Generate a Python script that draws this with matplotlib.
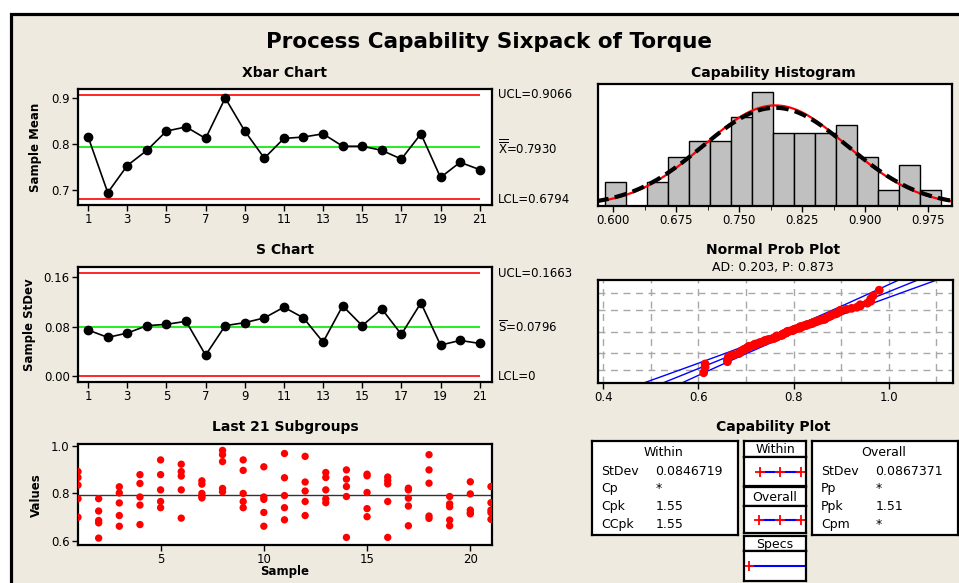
import numpy as np
import matplotlib
matplotlib.use("Agg")
import matplotlib.pyplot as plt
import matplotlib.patches as patches
from matplotlib.ticker import FixedLocator
from statistics import NormalDist

# --- данные ---
samples = list(range(1, 22))

xbar_means = [0.815, 0.694, 0.753, 0.786, 0.828, 0.837, 0.812, 0.900, 0.828, 0.769, 0.812,
			  0.815, 0.822, 0.795, 0.795, 0.786, 0.767, 0.822, 0.727, 0.760, 0.744]
xbar_ucl, xbar_center, xbar_lcl = 0.9066, 0.7930, 0.6794

s_devs = [0.0746, 0.0627, 0.0697, 0.0816, 0.0838, 0.0886, 0.0341, 0.0816, 0.0865, 0.0941, 0.1114,
		  0.0941, 0.0551, 0.1135, 0.0816, 0.1086, 0.0676, 0.1184, 0.0503, 0.0578, 0.0530]
s_ucl, s_center, s_lcl = 0.1663, 0.0796, 0.0

subgroups = [
	[0.891, 0.866, 0.834, 0.777, 0.699],
	[0.777, 0.725, 0.685, 0.675, 0.611],
	[0.827, 0.801, 0.759, 0.706, 0.661],
	[0.878, 0.841, 0.784, 0.750, 0.668],
	[0.940, 0.878, 0.814, 0.765, 0.739],
	[0.922, 0.891, 0.872, 0.814, 0.695],
	[0.852, 0.838, 0.799, 0.787, 0.780],
	[0.980, 0.962, 0.933, 0.820, 0.806],
	[0.940, 0.896, 0.799, 0.765, 0.739],
	[0.911, 0.784, 0.774, 0.719, 0.661],
	[0.967, 0.865, 0.790, 0.739, 0.688],
	[0.955, 0.847, 0.809, 0.765, 0.706],
	[0.887, 0.866, 0.814, 0.776, 0.760],
	[0.898, 0.859, 0.828, 0.786, 0.614],
	[0.880, 0.873, 0.803, 0.735, 0.701],
	[0.868, 0.853, 0.839, 0.765, 0.614],
	[0.821, 0.814, 0.779, 0.746, 0.663],
	[0.962, 0.898, 0.842, 0.704, 0.694],
	[0.786, 0.755, 0.743, 0.687, 0.663],
	[0.848, 0.797, 0.729, 0.718, 0.713],
	[0.828, 0.760, 0.729, 0.718, 0.690],
]

hist_edges = [0.59, 0.615, 0.64, 0.665, 0.69, 0.715, 0.74, 0.765, 0.79,
			  0.815, 0.84, 0.865, 0.89, 0.915, 0.94, 0.965, 0.99]
hist_counts = [3, 0, 3, 6, 8, 8, 11, 14, 9, 9, 9, 10, 6, 2, 5, 2]

sd_within = 0.0846719
sd_overall = 0.0867371
lsl = 0.4

within_rows = [("StDev", "0.0846719"), ("Cp", "*"), ("Cpk", "1.55"), ("CCpk", "1.55")]
overall_rows = [("StDev", "0.0867371"), ("Pp", "*"), ("Ppk", "1.51"), ("Cpm", "*")]

BG = "#EEEAE0"
W, H = 959.0, 583.0


def px_axes(fig, x0, y0, x1, y1):
	# координаты в пикселях картинки -> доли фигуры
	return fig.add_axes([x0 / W, 1 - y1 / H, (x1 - x0) / W, (y1 - y0) / H])


def style_axes(ax):
	ax.set_facecolor("white")
	for sp in ax.spines.values():
		sp.set_linewidth(1.6)
		sp.set_color("black")
	ax.tick_params(labelsize=8.5, length=4, width=1, direction="out", pad=2)


def fig_title(fig, x, y, text, size=10, weight="bold"):
	fig.text(x / W, 1 - y / H, text, ha="center", va="center", fontsize=size, fontweight=weight)


def plot_xbar(fig):
	ax = px_axes(fig, 78, 89, 492, 205)
	style_axes(ax)
	ax.hlines([xbar_ucl, xbar_lcl], 0.5, 21, color="red", lw=1.2)
	ax.hlines(xbar_center, 0.5, 21, color="#22EE22", lw=1.4)
	ax.plot(samples, xbar_means, color="black", lw=1.2, marker="o", ms=6)
	ax.set_xlim(0.48, 21.63)
	ax.set_ylim(0.667, 0.9196)
	ax.set_xticks(range(1, 22, 2))
	ax.set_yticks([0.7, 0.8, 0.9])
	ax.set_yticklabels(["0.7", "0.8", "0.9"])
	tr = ax.get_yaxis_transform()
	ax.text(1.015, xbar_ucl, f"UCL={xbar_ucl:.4f}", transform=tr, va="center", fontsize=8.5)
	ax.text(1.015, xbar_center, r"$\overline{\overline{\mathrm{X}}}$" + f"={xbar_center:.4f}",
			transform=tr, va="center", fontsize=8.5)
	ax.text(1.015, xbar_lcl, f"LCL={xbar_lcl:.4f}", transform=tr, va="center", fontsize=8.5)
	fig_title(fig, 285, 73, "Xbar Chart")
	fig.text(36 / W, 1 - 147 / H, "Sample Mean", rotation=90, ha="center", va="center",
			 fontsize=8.5, fontweight="bold")


def plot_s(fig):
	ax = px_axes(fig, 78, 267, 492, 382)
	style_axes(ax)
	ax.hlines([s_ucl, s_lcl], 0.5, 21, color="red", lw=1.2)
	ax.hlines(s_center, 0.5, 21, color="#22EE22", lw=1.4)
	ax.plot(samples, s_devs, color="black", lw=1.2, marker="o", ms=6)
	ax.set_xlim(0.48, 21.63)
	ax.set_ylim(-0.0092, 0.1762)
	ax.set_xticks(range(1, 22, 2))
	ax.set_yticks([0.0, 0.08, 0.16])
	ax.set_yticklabels(["0.00", "0.08", "0.16"])
	tr = ax.get_yaxis_transform()
	ax.text(1.015, s_ucl, f"UCL={s_ucl:.4f}", transform=tr, va="center", fontsize=8.5)
	ax.text(1.015, s_center, r"$\overline{\mathrm{S}}$" + f"={s_center:.4f}",
			transform=tr, va="center", fontsize=8.5)
	ax.text(1.015, s_lcl, "LCL=0", transform=tr, va="center", fontsize=8.5)
	fig_title(fig, 285, 250, "S Chart")
	fig.text(29 / W, 1 - 325 / H, "Sample StDev", rotation=90, ha="center", va="center",
			 fontsize=8.5, fontweight="bold")


def plot_subgroups(fig):
	ax = px_axes(fig, 78, 444, 492, 545)
	style_axes(ax)
	for i, vals in zip(samples, subgroups):
		ax.scatter([i] * len(vals), vals, s=28, color="red", edgecolors="none", zorder=3)
	ax.axhline(xbar_center, color="#333333", lw=1.0)
	ax.set_xlim(1, 21.05)
	ax.set_ylim(0.582, 1.007)
	ax.set_xticks([5, 10, 15, 20])
	ax.set_yticks([0.6, 0.8, 1.0])
	ax.set_yticklabels(["0.6", "0.8", "1.0"])
	fig_title(fig, 285, 427, "Last 21 Subgroups")
	fig_title(fig, 285, 572, "Sample", size=8.5)
	fig.text(36 / W, 1 - 495 / H, "Values", rotation=90, ha="center", va="center",
			 fontsize=8.5, fontweight="bold")


def plot_histogram(fig):
	ax = px_axes(fig, 598, 84, 952, 206)
	style_axes(ax)
	lefts = hist_edges[:-1]
	widths = np.diff(hist_edges)
	ax.bar(lefts, hist_counts, width=widths, align="edge", color="#C0C0C0",
		   edgecolor="black", linewidth=1.0)
	n = sum(hist_counts)
	bw = widths[0]
	xs = np.linspace(0.58, 1.01, 300)
	y_within = n * bw * np.array([NormalDist(xbar_center, sd_within).pdf(x) for x in xs])
	y_overall = n * bw * np.array([NormalDist(xbar_center, sd_overall).pdf(x) for x in xs])
	ax.plot(xs, y_within, color="red", lw=1.6)
	ax.plot(xs, y_overall, color="black", lw=3, linestyle=(0, (3, 1.5)))
	ax.set_xlim(0.582, 1.0035)
	ax.set_ylim(0, 15)
	ax.set_xticks([0.600, 0.675, 0.750, 0.825, 0.900, 0.975])
	ax.set_xticklabels(["0.600", "0.675", "0.750", "0.825", "0.900", "0.975"])
	ax.xaxis.set_minor_locator(FixedLocator([0.6375, 0.7125, 0.7875, 0.8625, 0.9375]))
	ax.tick_params(axis="x", which="minor", length=3)
	ax.set_yticks([])
	fig_title(fig, 773, 73, "Capability Histogram")


def plot_normal_prob(fig):
	ax = px_axes(fig, 598, 280, 953, 383)
	style_axes(ax)
	data = np.sort(np.concatenate([np.array(g) for g in subgroups]))
	n = len(data)
	nd = NormalDist()
	z = np.array([nd.inv_cdf((i - 0.3) / (n + 0.4)) for i in range(1, n + 1)])
	zz = np.linspace(-3.6, 3.6, 200)
	fit = xbar_center + sd_overall * zz
	half = 1.96 * sd_overall * np.sqrt(1.0 / n + zz ** 2 / (2.0 * n))
	for line in (fit, fit - half, fit + half):
		ax.plot(line, zz, color="blue", lw=1.0, zorder=2)
	ax.scatter(data, z, s=40, color="red", edgecolors="none", zorder=3)
	zmax = nd.inv_cdf(0.999)
	ax.set_ylim(-zmax, zmax)
	ax.set_xlim(0.389, 1.135)
	ax.set_xticks([0.4, 0.6, 0.8, 1.0])
	ax.set_xticklabels(["0.4", "0.6", "0.8", "1.0"])
	for gx in np.arange(0.4, 1.15, 0.1):
		ax.axvline(gx, color="#A8A8A8", lw=1.0, linestyle=(0, (5, 4)), zorder=1)
	for p in (0.01, 0.10, 0.50, 0.90, 0.99):
		ax.axhline(nd.inv_cdf(p), color="#A8A8A8", lw=1.0, linestyle=(0, (5, 4)), zorder=1)
	ax.set_yticks([])
	fig_title(fig, 773, 250, "Normal Prob Plot")
	fig_title(fig, 773, 267, "AD: 0.203, P: 0.873", size=9, weight="normal")


def info_box(fig, x0, y0, x1, y1, header, rows):
	ax = px_axes(fig, x0, y0, x1, y1)
	ax.set_xticks([])
	ax.set_yticks([])
	ax.set_facecolor("white")
	for sp in ax.spines.values():
		sp.set_linewidth(1.6)
	ax.text(0.49, 0.875, header, ha="center", va="center", fontsize=9, transform=ax.transAxes)
	ys = [0.68, 0.495, 0.30, 0.115]
	for (label, value), yy in zip(rows, ys):
		ax.text(0.06, yy, label, ha="left", va="center", fontsize=9, transform=ax.transAxes)
		ax.text(0.435, yy, value, ha="left", va="center", fontsize=9, transform=ax.transAxes)


def small_box(fig, y0, y1):
	ax = px_axes(fig, 744, y0, 806, y1)
	ax.set_xticks([])
	ax.set_yticks([])
	ax.set_facecolor("white")
	for sp in ax.spines.values():
		sp.set_linewidth(1.6)
	return ax


def plot_capability(fig):
	fig_title(fig, 773, 427, "Capability Plot")
	info_box(fig, 592, 441, 738, 535, "Within", within_rows)
	info_box(fig, 812, 441, 958, 535, "Overall", overall_rows)

	headers = [("Within", 441, 457), ("Overall", 487, 506), ("Specs", 536, 551)]
	for text, a, b in headers:
		hx = small_box(fig, a, b)
		hx.text(0.5, 0.45, text, ha="center", va="center", fontsize=9, transform=hx.transAxes)

	bodies = [(457, 486, sd_within), (506, 533, sd_overall)]
	for a, b, sd in bodies:
		bx = small_box(fig, a, b)
		pts = [xbar_center - 3 * sd, xbar_center, xbar_center + 3 * sd]
		bx.plot([pts[0], pts[-1]], [0.5, 0.5], color="blue", lw=1.5)
		bx.plot(pts, [0.5] * 3, linestyle="none", marker="+", color="red", ms=7, mew=1.3)
		bx.set_xlim(0.343, 1.114)
		bx.set_ylim(0, 1)

	sx = small_box(fig, 551, 581)
	sx.plot([lsl, 1.2], [0.5, 0.5], color="blue", lw=1.5)
	sx.plot([lsl], [0.5], linestyle="none", marker="+", color="red", ms=7, mew=1.3)
	sx.set_xlim(0.343, 1.114)
	sx.set_ylim(0, 1)


def main():
	fig = plt.figure(figsize=(9.59, 5.83), dpi=100)
	fig.patch.set_facecolor("white")
	frame = patches.Rectangle((10.8 / W, -0.05), 1.2, (H - 14) / H + 0.05, transform=fig.transFigure,
							  facecolor=BG, edgecolor="black", linewidth=2.3, zorder=-5)
	fig.add_artist(frame)

	fig_title(fig, 489, 42, "Process Capability Sixpack of Torque", size=15.5)
	plot_xbar(fig)
	plot_s(fig)
	plot_subgroups(fig)
	plot_histogram(fig)
	plot_normal_prob(fig)
	plot_capability(fig)
	fig.savefig("out.png", dpi=100, facecolor=fig.get_facecolor())


if __name__ == "__main__":
	main()
